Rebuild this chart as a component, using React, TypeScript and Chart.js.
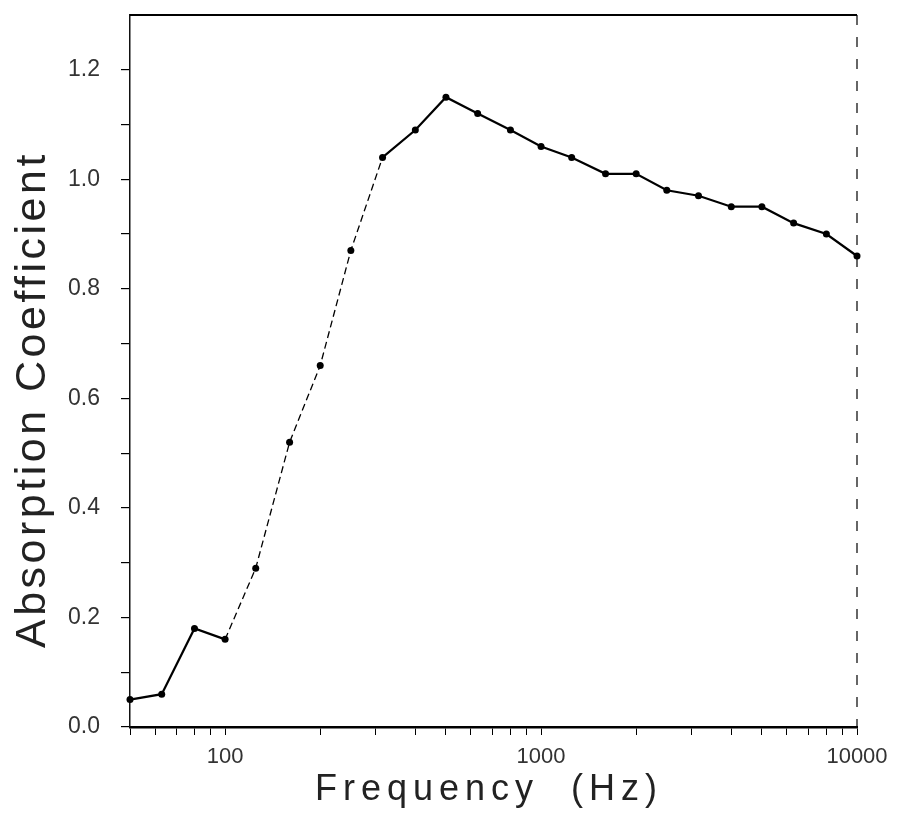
import React, { useEffect, useRef } from "react";
import { Chart, registerables } from "chart.js";

Chart.register(...registerables);

const frequencies = [50, 63, 80, 100, 125, 160, 200, 250, 315, 400, 500, 630, 800, 1000, 1250, 1600, 2000, 2500, 3150, 4000, 5000, 6300, 8000, 10000];
const absorption = [0.05, 0.06, 0.18, 0.16, 0.29, 0.52, 0.66, 0.87, 1.04, 1.09, 1.15, 1.12, 1.09, 1.06, 1.04, 1.01, 1.01, 0.98, 0.97, 0.95, 0.95, 0.92, 0.90, 0.86];
const xTickValues = [50, 60, 70, 80, 90, 100, 200, 300, 400, 500, 600, 700, 800, 900, 1000, 2000, 3000, 4000, 5000, 6000, 7000, 8000, 9000, 10000];
const xLabelValues = [100, 1000, 10000];
const yTickValues = [0, 0.1, 0.2, 0.3, 0.4, 0.5, 0.6, 0.7, 0.8, 0.9, 1.0, 1.1, 1.2];
const xTitle = "Frequency  (Hz)";
const yTitle = "Absorption Coefficient";
const dashedFrom = 3;
const dashedTo = 7;

const FONT = '"Liberation Sans", Arial, sans-serif';

export default function App() {
  const ref = useRef<HTMLCanvasElement | null>(null);
  useEffect(() => {
    if (!ref.current) return;
    const framePlugin = {
      id: "frame",
      afterDraw(chart: any) {
        const { ctx, chartArea } = chart;
        const { left, right, top, bottom } = chartArea;
        ctx.save();
        ctx.strokeStyle = "#000";
        ctx.lineWidth = 2;
        ctx.beginPath();
        ctx.moveTo(left, top);
        ctx.lineTo(right, top);
        ctx.stroke();
        ctx.lineWidth = 1.2;
        ctx.setLineDash([10, 12]);
        ctx.beginPath();
        ctx.moveTo(right, top);
        ctx.lineTo(right, bottom);
        ctx.stroke();
        ctx.setLineDash([]);
        ctx.fillStyle = "#222";
        (ctx as any).letterSpacing = "6px";
        ctx.font = `36px ${FONT}`;
        ctx.textAlign = "left";
        ctx.textBaseline = "alphabetic";
        ctx.fillText(xTitle, 315, 800);
        ctx.translate(45, 648);
        ctx.rotate(-Math.PI / 2);
        (ctx as any).letterSpacing = "3.5px";
        ctx.font = `43px ${FONT}`;
        ctx.fillText(yTitle, 0, 0);
        ctx.restore();
      },
    };
    const chart = new Chart(ref.current, {
      type: "line",
      data: {
        datasets: [
          {
            data: frequencies.map((f, i) => ({ x: f, y: absorption[i] })),
            borderColor: "#000",
            backgroundColor: "#000",
            borderWidth: 2.2,
            pointRadius: 3.5,
            pointBorderWidth: 0,
            pointBackgroundColor: "#000",
            tension: 0,
            clip: false as any,
            segment: {
              borderDash: (c: any) => (c.p0DataIndex >= dashedFrom && c.p0DataIndex <= dashedTo ? [7, 4] : undefined),
              borderWidth: (c: any) => (c.p0DataIndex >= dashedFrom && c.p0DataIndex <= dashedTo ? 1.3 : undefined),
            },
          },
        ],
      },
      options: {
        animation: false,
        responsive: false,
        layout: { padding: { top: 15, right: 47, left: 0, bottom: 0 } },
        plugins: { legend: { display: false }, tooltip: { enabled: false } },
        scales: {
          x: {
            type: "logarithmic",
            min: 50,
            max: 10000,
            afterBuildTicks: (scale: any) => {
              scale.ticks = xTickValues.map((v) => ({ value: v }));
            },
            afterFit: (scale: any) => {
              scale.height = 93;
              scale.paddingLeft = 0;
              scale.paddingRight = 0;
            },
            grid: { drawOnChartArea: false, drawTicks: true, tickLength: 8, color: "#000", lineWidth: 1 },
            border: { display: true, color: "#000", width: 2.5 },
            ticks: {
              autoSkip: false,
              maxRotation: 0,
              padding: 9,
              color: "#333",
              font: { family: FONT, size: 22 },
              callback: (v: any) => (xLabelValues.includes(Number(v)) ? String(v) : ""),
            },
          },
          y: {
            type: "linear",
            min: 0,
            max: 1.3,
            afterBuildTicks: (scale: any) => {
              scale.ticks = yTickValues.map((v) => ({ value: v }));
            },
            afterFit: (scale: any) => {
              scale.width = 130;
              scale.paddingTop = 0;
              scale.paddingBottom = 0;
            },
            grid: { drawOnChartArea: false, drawTicks: true, tickLength: 9, color: "#000", lineWidth: 1.2 },
            border: { display: true, color: "#111", width: 1.5 },
            ticks: {
              autoSkip: false,
              padding: 21,
              color: "#333",
              font: { family: FONT, size: 23 },
              callback: (v: any) => (Math.round(Number(v) * 10) % 2 === 0 ? Number(v).toFixed(1) : ""),
            },
          },
        },
      },
      plugins: [framePlugin],
    });
    return () => chart.destroy();
  }, []);
  return (
    <div style={{ position: "absolute", left: 0, top: 0, width: 904, height: 820, background: "#fff" }}>
      <canvas ref={ref} width={904} height={820} style={{ display: "block" }} />
    </div>
  );
}
